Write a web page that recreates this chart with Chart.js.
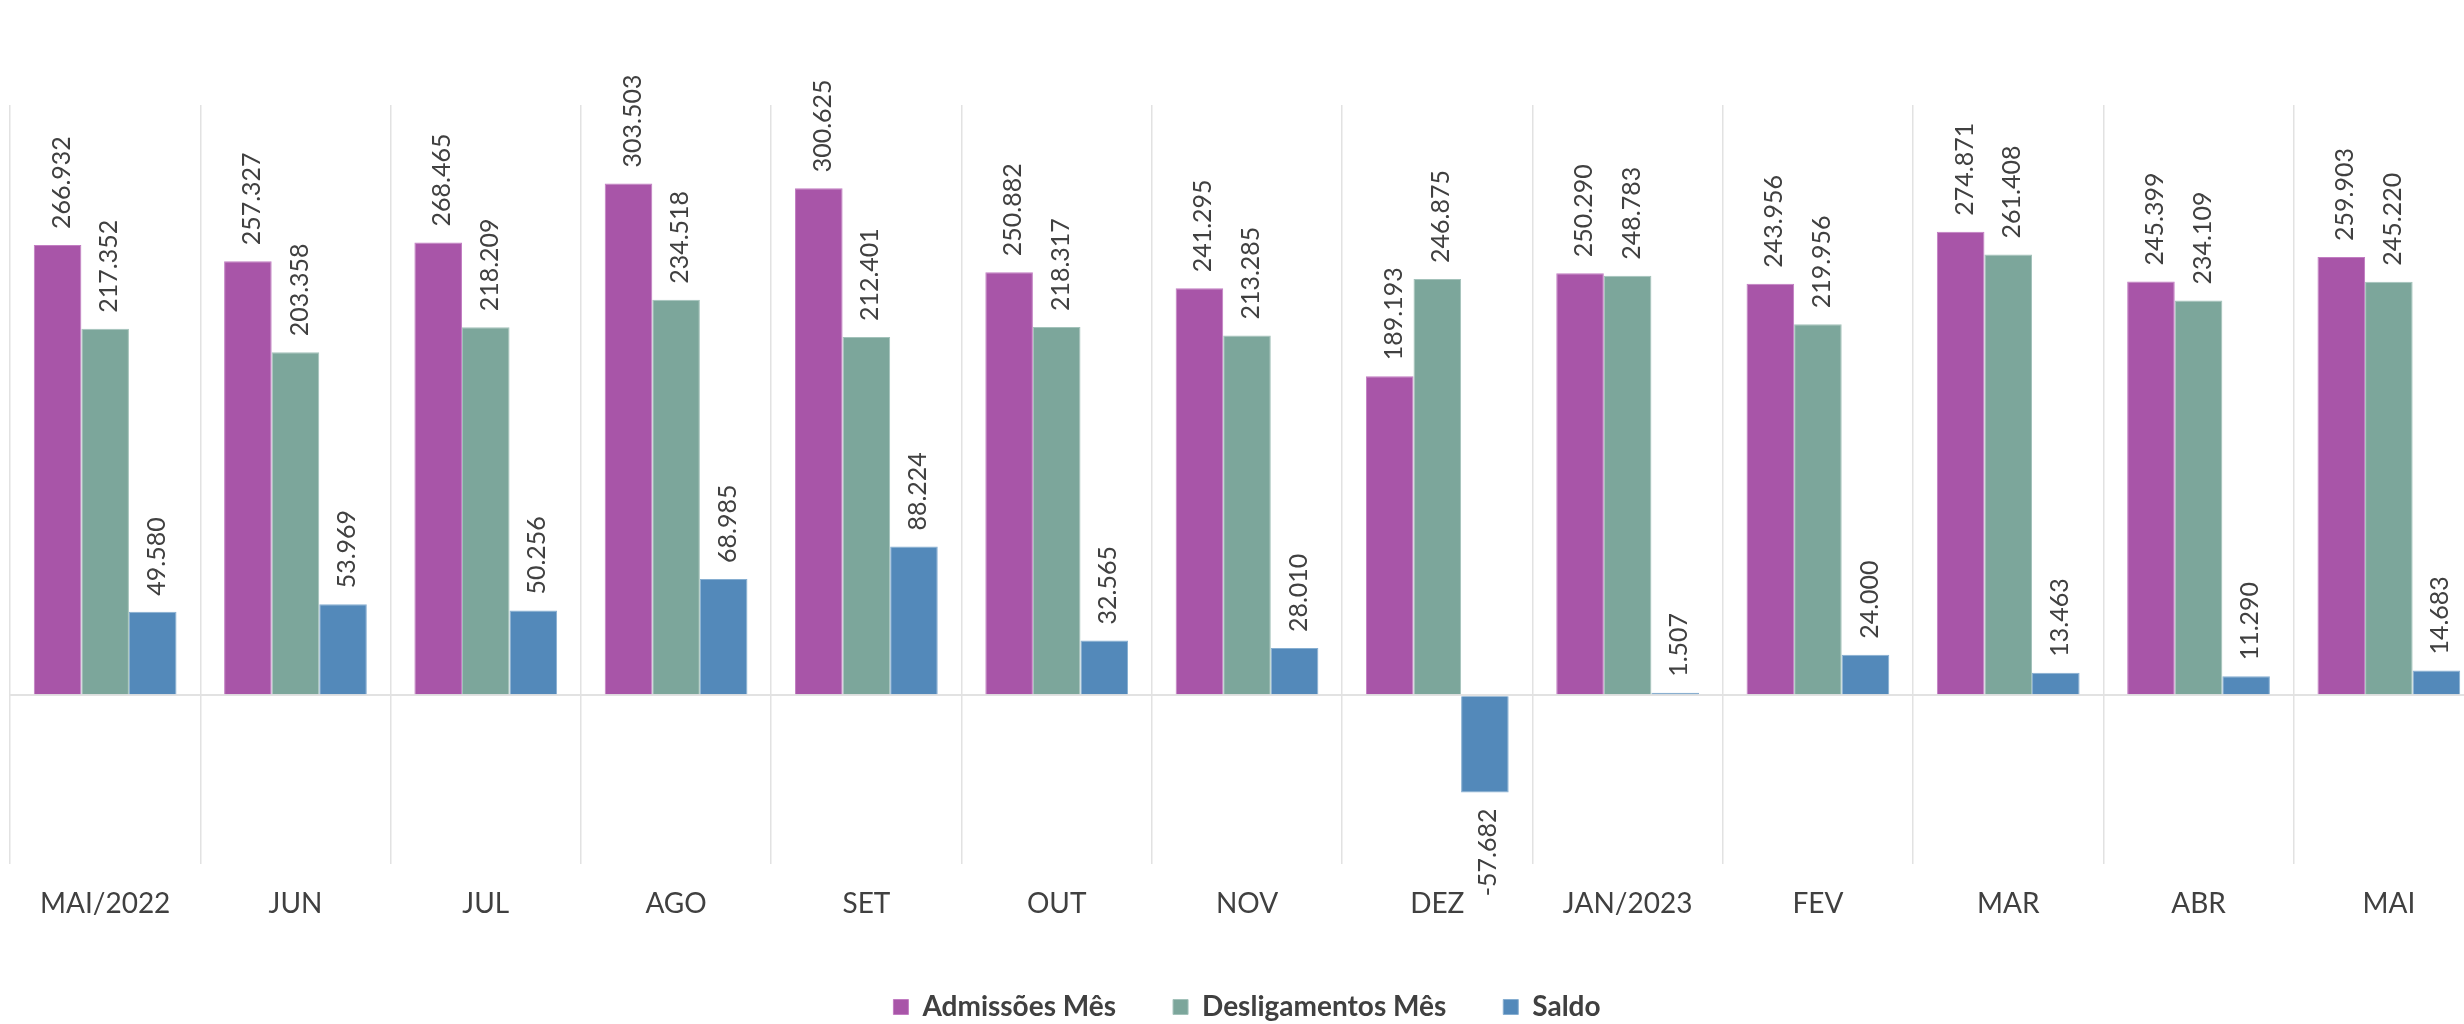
<!DOCTYPE html>
<html>
<head>
<meta charset="utf-8">
<script src="https://cdn.jsdelivr.net/npm/chart.js@4"></script>
<style>
  html, body { margin: 0; padding: 0; background: #fff; overflow: hidden; }
  canvas { display: block; }
</style>
</head>
<body>
<canvas id="chart" width="2490" height="1035"></canvas>
<script>
const months = ["MAI/2022", "JUN", "JUL", "AGO", "SET", "OUT", "NOV", "DEZ", "JAN/2023", "FEV", "MAR", "ABR", "MAI"];
const admissoes = [266932, 257327, 268465, 303503, 300625, 250882, 241295, 189193, 250290, 243956, 274871, 245399, 259903];
const desligamentos = [217352, 203358, 218209, 234518, 212401, 218317, 213285, 246875, 248783, 219956, 261408, 234109, 245220];
const saldo = [49580, 53969, 50256, 68985, 88224, 32565, 28010, -57682, 1507, 24000, 13463, 11290, 14683];

const textColor = "#404040";
const fontFamily = "Lato, 'Open Sans', sans-serif";

// milhar com ponto, como no original
function formatNum(v) {
  const s = Math.abs(v).toString().replace(/\B(?=(\d{3})+(?!\d))/g, ".");
  return (v < 0 ? "-" : "") + s;
}

// rótulos verticais acima/abaixo das barras
const barLabels = {
  id: "barLabels",
  afterDatasetsDraw(chart) {
    const ctx = chart.ctx;
    ctx.save();
    ctx.font = "25px " + fontFamily;
    ctx.fillStyle = textColor;
    ctx.textBaseline = "middle";
    chart.data.datasets.forEach((ds, i) => {
      const meta = chart.getDatasetMeta(i);
      meta.data.forEach((bar, j) => {
        const v = ds.data[j];
        ctx.save();
        if (v >= 0) {
          ctx.translate(bar.x + 4, bar.y - 16);
          ctx.rotate(-Math.PI / 2);
          ctx.textAlign = "left";
        } else {
          ctx.translate(bar.x + 3, bar.y + 16);
          ctx.rotate(-Math.PI / 2);
          ctx.textAlign = "right";
        }
        ctx.fillText(formatNum(v), 0, 0);
        ctx.restore();
      });
    });
    ctx.restore();
  }
};

new Chart(document.getElementById("chart"), {
  type: "bar",
  data: {
    labels: months,
    datasets: [
      {
        label: "Admissões Mês",
        data: admissoes,
        backgroundColor: "#A855A8",
        borderColor: "#C27DC2",
        borderWidth: 1
      },
      {
        label: "Desligamentos Mês",
        data: desligamentos,
        backgroundColor: "#7CA69B",
        borderColor: "#A3C2BA",
        borderWidth: 1
      },
      {
        label: "Saldo",
        data: saldo,
        backgroundColor: "#5389BA",
        borderColor: "#86AED1",
        borderWidth: 1
      }
    ]
  },
  options: {
    responsive: false,
    animation: false,
    layout: { padding: { left: 10, right: 6, top: 105, bottom: 4 } },
    datasets: {
      bar: { categoryPercentage: 0.75, barPercentage: 1.0 }
    },
    plugins: {
      tooltip: { enabled: false },
      legend: {
        position: "bottom",
        labels: {
          boxWidth: 15,
          boxHeight: 15,
          padding: 57,
          color: textColor,
          font: { family: fontFamily, size: 28, weight: "bold" }
        }
      }
    },
    scales: {
      x: {
        grid: { offset: true, color: "#e2e2e2", lineWidth: 1.5, drawTicks: false },
        border: { display: false },
        ticks: {
          padding: 23,
          color: textColor,
          font: { family: fontFamily, size: 28 }
        },
        afterFit(scale) { scale.height = 72; }
      },
      y: {
        min: -100000,
        max: 350000,
        ticks: { display: false, stepSize: 50000 },
        grid: {
          drawTicks: false,
          lineWidth: 2,
          color: ctx => (ctx.tick && ctx.tick.value === 0 ? "#e2e2e2" : "rgba(0,0,0,0)")
        },
        border: { display: false }
      }
    }
  },
  plugins: [barLabels]
});
</script>
</body>
</html>
